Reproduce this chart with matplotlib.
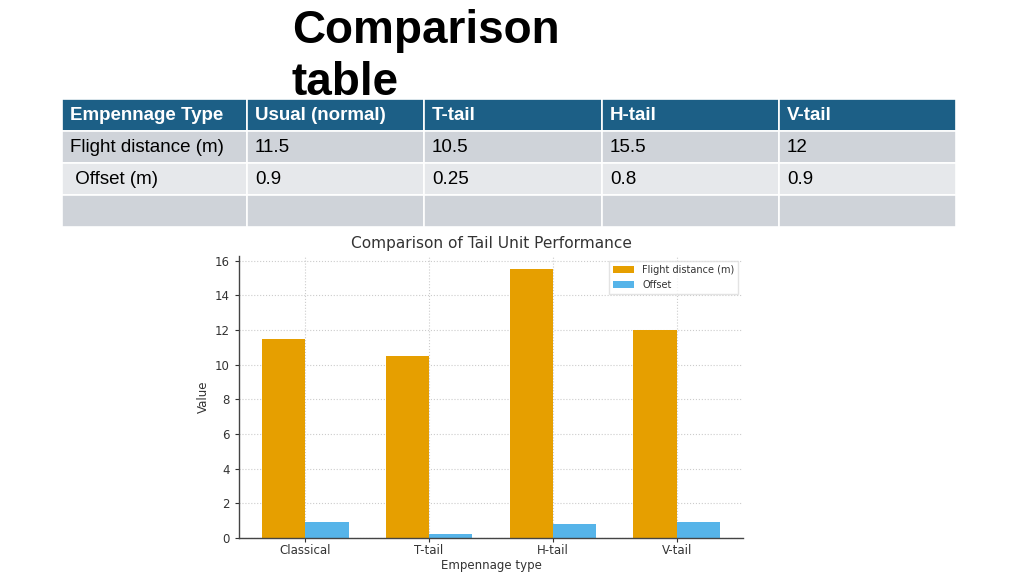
import numpy as np
import matplotlib.pyplot as plt
from matplotlib.patches import Rectangle

# table / chart data
table_header = ["Empennage Type", "Usual (normal)", "T-tail", "H-tail", "V-tail"]
row_labels = ["Flight distance (m)", " Offset (m)", ""]
flight_distance = [11.5, 10.5, 15.5, 12]
offset = [0.9, 0.25, 0.8, 0.9]
categories = ["Classical", "T-tail", "H-tail", "V-tail"]

fig = plt.figure(figsize=(10.24, 5.74), dpi=100)

# slide layer (pixel coordinates)
bg = fig.add_axes([0, 0, 1, 1])
bg.set_xlim(0, 1024)
bg.set_ylim(574, 0)
bg.axis('off')

bg.text(292, 43, "Comparison", fontsize=33, fontweight='bold',
        family='Liberation Sans', va='baseline', ha='left')
bg.text(292, 95, "table", fontsize=33, fontweight='bold',
        family='Liberation Sans', va='baseline', ha='left')

col_x = [62, 247, 424, 602, 779, 956]
row_y = [99, 131, 163, 195, 227]
row_colors = ['#1c5f86', '#cfd3d9', '#e6e8eb', '#cfd3d9']

rows = [table_header,
        [row_labels[0]] + [f"{v:g}" for v in flight_distance],
        [row_labels[1]] + [f"{v:g}" for v in offset],
        [row_labels[2]] + [""] * 4]

for r, cells in enumerate(rows):
    y0, y1 = row_y[r], row_y[r + 1]
    for c, txt in enumerate(cells):
        x0, x1 = col_x[c], col_x[c + 1]
        bg.add_patch(Rectangle((x0, y0), x1 - x0, y1 - y0,
                               facecolor=row_colors[r], edgecolor='white', lw=1.2))
        if r == 0:
            bg.text(x0 + 8, (y0 + y1) / 2 + 1, txt, color='white', fontsize=13.5,
                    fontweight='bold', family='Liberation Sans', va='center')
        else:
            bg.text(x0 + 8, (y0 + y1) / 2 + 1, txt, color='black', fontsize=13.5,
                    family='Liberation Sans', va='center')

# chart
tc = '#333333'
ax = fig.add_axes([0.2334, 0.0627, 0.4922, 0.4913])
x = np.arange(len(categories))
w = 0.35
ax.bar(x - w / 2, flight_distance, w, color='#E69F00', label='Flight distance (m)', zorder=2)
ax.bar(x + w / 2, offset, w, color='#56B4E9', label='Offset', zorder=2)

ax.set_xticks(x)
ax.set_xticklabels(categories)
ax.set_yticks(np.arange(0, 17, 2))
ax.tick_params(labelsize=8.5, colors=tc, length=3, width=0.8)
ax.tick_params(axis='x', pad=1.5)
ax.set_xlabel('Empennage type', fontsize=8.5, color=tc, labelpad=1)
ax.set_ylabel('Value', fontsize=8.5, color=tc)
ax.set_title('Comparison of Tail Unit Performance', fontsize=11.1, color=tc, pad=6)
ax.grid(True, linestyle=':', color='#cccccc', linewidth=0.8, zorder=0)
ax.set_axisbelow(True)
for s in ['top', 'right']:
    ax.spines[s].set_visible(False)
for s in ['left', 'bottom']:
    ax.spines[s].set_color('#444444')
    ax.spines[s].set_linewidth(1.0)

leg = ax.legend(loc='upper right', fontsize=7, frameon=True, fancybox=False,
                edgecolor='#dddddd', handlelength=2.2)
for t in leg.get_texts():
    t.set_color(tc)

fig.savefig('out.png', dpi=100)
